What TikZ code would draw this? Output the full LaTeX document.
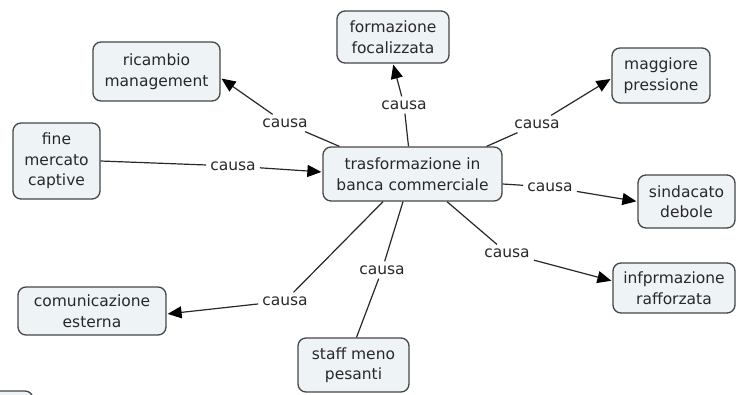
\documentclass[tikz,border=0pt]{standalone}
\usepackage{fontspec}
\setmainfont{DejaVu Sans}
\usetikzlibrary{arrows.meta}
\definecolor{boxfill}{RGB}{238,243,246}
\definecolor{boxline}{RGB}{70,70,70}
\definecolor{ink}{RGB}{40,40,40}
\begin{document}
\begin{tikzpicture}[x=1pt,y=-1pt,
  concept/.style={draw=boxline, fill=boxfill, line width=1.3pt, rounded corners=8pt,
    align=center, text=ink, inner sep=0pt, font=\fontsize{15.5}{20.5}\selectfont},
  link/.style={text=ink, inner sep=4pt, font=\fontsize{15.5}{20.5}\selectfont},
  conn/.style={draw=ink, line width=1.2pt},
  arr/.style={conn, shorten >=1pt, -{Triangle[length=14pt,width=12pt,fill=black,color=black]}}
]
\clip (0,0) rectangle (736,394);

% concepts
\node[concept, minimum width=179pt, minimum height=54pt] (c) at (412.5,174) {trasformazione in\\banca commerciale};
\node[concept, minimum width=112pt, minimum height=52pt] (form) at (393,37) {formazione\\focalizzata};
\node[concept, minimum width=127pt, minimum height=59pt] (ric) at (156.5,71.5) {ricambio\\management};
\node[concept, minimum width=98pt, minimum height=55pt] (mag) at (661,75.5) {maggiore\\pressione};
\node[concept, minimum width=87pt, minimum height=76pt] (fin) at (56.5,161) {fine\\mercato\\captive};
\node[concept, minimum width=97pt, minimum height=53pt] (sin) at (686.5,201.5) {sindacato\\debole};
\node[concept, minimum width=122pt, minimum height=50pt] (inf) at (674,288) {infprmazione\\rafforzata};
\node[concept, minimum width=148pt, minimum height=48pt] (com) at (92,311) {comunicazione\\esterna};
\node[concept, minimum width=111pt, minimum height=54pt] (staff) at (353.5,365) {staff meno\\pesanti};
\node[concept, minimum width=70pt, minimum height=40pt] (part) at (-2,411) {};

% linking phrases
\node[link] (lric) at (285,123) {causa};
\node[link] (lfin) at (233,166) {causa};
\node[link] (lform) at (404,105) {causa};
\node[link] (lmag) at (537,124) {causa};
\node[link] (lsin) at (550,187) {causa};
\node[link] (linf) at (507,253) {causa};
\node[link] (lstaff) at (382,270) {causa};
\node[link] (lcom) at (285,301) {causa};

% connections
\draw[conn] ([xshift=17pt]c.north west) -- (lric);
\draw[arr] (lric) -- ([yshift=-6.5pt]ric.east);
\draw[conn] (fin.east) -- (lfin);
\draw[arr] (lfin) -- ([yshift=2pt]c.west);
\draw[conn] ([xshift=-4pt]c.north) -- (lform);
\draw[arr] (lform) -- (form.south);
\draw[conn] ([xshift=-16pt]c.north east) -- (lmag);
\draw[arr] (lmag) -- ([yshift=-3pt]mag.west);
\draw[conn] ([yshift=-10pt]c.east) -- (lsin);
\draw[arr] (lsin) -- (sin.west);
\draw[conn] ([xshift=34.5pt]c.south) -- (linf);
\draw[arr] (linf) -- ([yshift=7pt]inf.west);
\draw[conn] ([xshift=-9.5pt]c.south) -- (lstaff);
\draw[conn] (lstaff) -- ([xshift=3pt]staff.north);
\draw[conn] ([xshift=-29.5pt]c.south) -- (lcom);
\draw[arr] (lcom) -- ([yshift=-3pt]com.east);
\end{tikzpicture}
\end{document}
